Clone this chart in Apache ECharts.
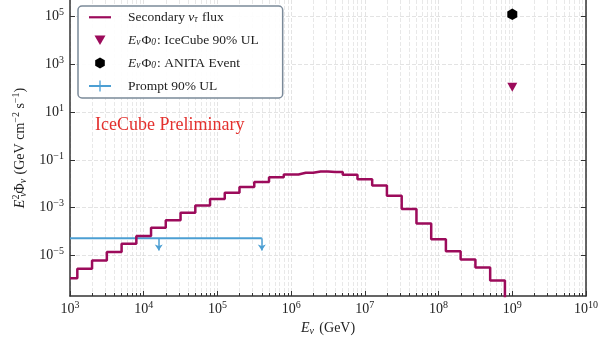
<!DOCTYPE html>
<html>
<head>
<meta charset="utf-8">
<script src="https://cdn.jsdelivr.net/npm/echarts@6/dist/echarts.min.js"></script>
<style>
  html, body { margin: 0; padding: 0; background: #fff; }
  #chart { width: 610px; height: 340px; }
</style>
</head>
<body>
<div id="chart"></div>
<script>
// bin centres (GeV) and the secondary nu_tau flux
let energies = [1e3, 1.58e3, 2.51e3, 3.98e3, 6.31e3, 1e4, 1.58e4, 2.51e4, 3.98e4, 6.31e4,
  1e5, 1.58e5, 2.51e5, 3.98e5, 6.31e5, 1e6, 1.58e6, 2.51e6, 3.98e6, 6.31e6,
  1e7, 1.58e7, 2.51e7, 3.98e7, 6.31e7, 1e8, 1.58e8, 2.51e8, 3.98e8, 6.31e8, 1e9]
let secondaryFlux = [1.12e-6, 2.75e-6, 6.2e-6, 1.38e-5, 3.1e-5, 6.5e-5, 1.45e-4, 3.0e-4, 6.2e-4, 1.23e-3,
  2.3e-3, 4.2e-3, 7.4e-3, 1.2e-2, 1.9e-2, 2.45e-2, 2.9e-2, 3.25e-2, 3.1e-2, 2.4e-2,
  1.55e-2, 8.5e-3, 3.2e-3, 8.9e-4, 2.2e-4, 4.8e-5, 1.5e-5, 6.8e-6, 3.1e-6, 8.9e-7, 1e-9]

let icecubeUL = [[1e9, 1.1e2]]
let anitaEvent = [[1e9, 1.25e5]]

let promptRange = [1e3, 4e5]
let promptLevel = 5.3e-5
let promptArrowX = [1.6e4, 4e5]
let promptArrowTip = 1.6e-5

let xTicks = [1e3, 1e4, 1e5, 1e6, 1e7, 1e8, 1e9, 1e10]
let yTicks = [1e-5, 1e-3, 1e-1, 1e1, 1e3, 1e5]

// minor positions 2..9 in every decade (grid only)
let xMinor = []
for (let d = 3; d < 10; d++) {
  for (let k = 2; k <= 9; k++) xMinor.push(k * Math.pow(10, d))
}

const serif = '"Liberation Serif", "DejaVu Serif", serif'
const purple = '#9c0b5b'
const blue = '#4c9fd3'
const ink = '#222'

function pow10Label(v) {
  let e = Math.round(Math.log10(v))
  return '{b|10}{s|' + (e < 0 ? '\u2212' + (-e) : e) + '}'
}

const tickRich = {
  b: { fontFamily: serif, fontSize: 14, color: ink },
  s: { fontFamily: serif, fontSize: 10, color: ink, padding: [0, 0, 8, 0] }
}

const legendLabels = {
  'secondary': '{g| }Secondary {i|\u03bd}{sub|\u03c4} flux',
  'icecube': '{g| }{i|E}{sub|\u03bd}\u03a6{sub|0}: IceCube 90% UL',
  'anita': '{g| }{i|E}{sub|\u03bd}\u03a6{sub|0}: ANITA Event',
  'prompt': '{g| }Prompt 90% UL'
}

const hexagon = 'path://M0,-1 L0.866,-0.5 L0.866,0.5 L0,1 L-0.866,0.5 L-0.866,-0.5 Z'

let chart = echarts.init(document.getElementById('chart'))

let option = {
  animation: false,
  backgroundColor: '#fff',
  grid: { left: 70, right: 24, top: 0, bottom: 44, outerBoundsMode: 'none' },
  title: {
    text: 'IceCube Preliminary',
    left: 90, top: 111,
    textStyle: { fontFamily: serif, fontSize: 18, fontWeight: 'normal', color: '#e3312e' }
  },
  legend: {
    orient: 'vertical',
    left: 78, top: 6,
    padding: [3, 24, 4, 5],
    itemGap: 7,
    itemWidth: 34,
    itemHeight: 11,
    backgroundColor: 'rgba(255,255,255,0.9)',
    borderColor: '#7b8a99',
    borderWidth: 1.5,
    borderRadius: 4,
    data: [
      { name: 'secondary', icon: 'path://M0,0 M0,20 M0,8.5 H40 V12.5 H0 Z' },
      { name: 'icecube', icon: 'path://M0,0 M34,11 M11.5,1 L22.5,1 L17,10.5 Z' },
      { name: 'anita', icon: 'path://M0,0 M34,11 M17,0 L21.8,2.75 L21.8,8.25 L17,11 L12.2,8.25 L12.2,2.75 Z' },
      { name: 'prompt', icon: 'path://M0,8.3 H40 V11.7 H0 Z M18.8,0 H21.2 V20 H18.8 Z' }
    ],
    formatter: name => legendLabels[name],
    textStyle: {
      fontFamily: serif, fontSize: 13.5, color: ink, lineHeight: 16,
      rich: {
        g: { width: 6, fontSize: 13.5, lineHeight: 16 },
        i: { fontFamily: serif, fontStyle: 'italic', fontSize: 13.5, color: ink, lineHeight: 16 },
        sub: { fontFamily: serif, fontStyle: 'italic', fontSize: 9.5, color: ink, padding: [5, 1, 0, 0], lineHeight: 16 }
      }
    }
  },
  xAxis: [
    {
      type: 'log', logBase: 10, min: 1e3, max: 1e10,
      name: '{i|E}{sub|\u03bd} (GeV)',
      nameLocation: 'middle', nameGap: 19,
      nameTextStyle: {
        fontFamily: serif, fontSize: 14, color: ink,
        rich: {
          i: { fontFamily: serif, fontStyle: 'italic', fontSize: 14, color: ink },
          sub: { fontFamily: serif, fontStyle: 'italic', fontSize: 10, color: ink, padding: [6, 2, 0, 0] }
        }
      },
      axisLine: { show: true, lineStyle: { color: '#333', width: 1.5 } },
      axisTick: { show: true, inside: true, length: 5, customValues: xTicks, lineStyle: { color: '#333', width: 1 } },
      axisLabel: { customValues: xTicks, formatter: pow10Label, rich: tickRich, margin: 4 },
      splitLine: { show: true, lineStyle: { color: '#dcdcdc', type: [4, 2], width: 0.8 } },
      minorTick: { show: false }
    },
    {
      type: 'log', logBase: 10, min: 1e3, max: 1e10, position: 'bottom',
      axisLine: { show: false },
      axisTick: { show: true, inside: true, length: 3, customValues: xMinor, lineStyle: { color: '#333', width: 1 } },
      axisLabel: { show: false },
      splitLine: { show: true, lineStyle: { color: '#e2e2e2', type: [4, 2], width: 0.8 } }
    }
  ],
  yAxis: [
    {
      type: 'log', logBase: 10, min: 2e-7, max: 5e5,
      name: '{i|E}{sup|2}{sub2|\u03bd}\u03a6{sub|\u03bd} (GeV cm{sup|\u22122} s{sup|\u22121})',
      nameLocation: 'middle', nameGap: 40, nameRotate: 90,
      nameTextStyle: {
        fontFamily: serif, fontSize: 14, color: ink,
        rich: {
          i: { fontFamily: serif, fontStyle: 'italic', fontSize: 14, color: ink },
          sup: { fontFamily: serif, fontSize: 10, color: ink, padding: [0, 0, 8, 0] },
          sub: { fontFamily: serif, fontStyle: 'italic', fontSize: 10, color: ink, padding: [6, 1, 0, 0] },
          sub2: { fontFamily: serif, fontStyle: 'italic', fontSize: 10, color: ink, padding: [6, 1, 0, 0], width: 0 }
        }
      },
      axisLine: { show: true, lineStyle: { color: '#333', width: 1.5 } },
      axisTick: { show: true, inside: true, length: 5, customValues: yTicks, lineStyle: { color: '#333', width: 1 } },
      axisLabel: { customValues: yTicks, formatter: pow10Label, rich: tickRich, margin: 6 },
      splitLine: { show: true, lineStyle: { color: '#dcdcdc', type: [4, 2], width: 0.8 } }
    },
    {
      type: 'log', logBase: 10, min: 2e-7, max: 5e5, position: 'right',
      axisLine: { show: true, lineStyle: { color: '#333', width: 1.5 } },
      axisTick: { show: true, inside: true, length: 5, customValues: yTicks, lineStyle: { color: '#333', width: 1 } },
      axisLabel: { show: false },
      splitLine: { show: false }
    }
  ],
  series: [
    {
      name: 'secondary',
      type: 'line',
      step: 'middle',
      data: energies.map((e, i) => [e, secondaryFlux[i]]),
      showSymbol: false,
      symbol: 'none',
      clip: true,
      lineStyle: { color: purple, width: 2.5 },
      itemStyle: { color: purple },
      emphasis: { disabled: true },
      z: 4
    },
    {
      name: 'icecube',
      type: 'scatter',
      data: icecubeUL,
      symbol: 'triangle',
      symbolRotate: 180,
      symbolSize: [10, 9],
      itemStyle: { color: purple, opacity: 1 },
      emphasis: { disabled: true },
      z: 5
    },
    {
      name: 'anita',
      type: 'scatter',
      data: anitaEvent,
      symbol: hexagon,
      symbolSize: [10, 11.5],
      itemStyle: { color: '#000', opacity: 1 },
      emphasis: { disabled: true },
      z: 5
    },
    {
      name: 'prompt',
      type: 'line',
      data: promptRange.map(x => [x, promptLevel]),
      showSymbol: false,
      symbol: 'none',
      lineStyle: { color: blue, width: 2 },
      itemStyle: { color: blue },
      emphasis: { disabled: true },
      z: 3,
      markLine: {
        silent: true,
        symbol: ['none', 'arrow'],
        symbolSize: [6, 6],
        label: { show: false },
        lineStyle: { color: blue, width: 1.5, type: 'solid' },
        data: promptArrowX.map(x => [{ coord: [x, promptLevel] }, { coord: [x, promptArrowTip] }])
      }
    }
  ]
}

chart.setOption(option)
</script>
</body>
</html>
